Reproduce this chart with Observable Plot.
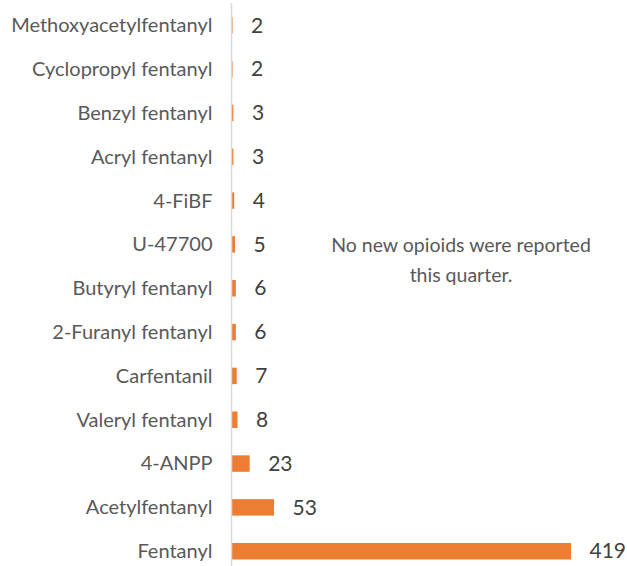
<!DOCTYPE html>
<html><head><meta charset="utf-8">
<script src="https://cdn.jsdelivr.net/npm/d3@7"></script>
<script src="https://cdn.jsdelivr.net/npm/@observablehq/plot@0.6"></script>
<style>body{margin:0;background:#fff;} svg{display:block;}</style>
</head><body><div id="chart"></div>
<script>
const substances = ["Methoxyacetylfentanyl","Cyclopropyl fentanyl","Benzyl fentanyl","Acryl fentanyl","4-FiBF","U-47700","Butyryl fentanyl","2-Furanyl fentanyl","Carfentanil","Valeryl fentanyl","4-ANPP","Acetylfentanyl","Fentanyl"];
const counts = [2,2,3,3,4,5,6,6,7,8,23,53,419];
const note = "No new opioids were reported\nthis quarter.";

const data = substances.map((name, i) => ({name, count: counts[i]}));
const font = "Lato, 'Open Sans', sans-serif";

const chart = Plot.plot({
  width: 627, height: 566,
  marginLeft: 231, marginRight: 56, marginTop: 3, marginBottom: 0,
  style: {fontFamily: font, background: "#fff"},
  x: {domain: [0, 419], axis: null},
  y: {domain: substances, range: [0, 576.5], round: false, paddingInner: 0.624, paddingOuter: 0.389, label: null, axis: null},
  marks: [
    Plot.barX(data, {x: "count", y: "name", fill: "#ED7D31", insetLeft: 1}),
    Plot.ruleX([0], {stroke: "#D9D9D9", strokeWidth: 1.5}),
    Plot.text(data, {x: "count", y: "name", text: d => String(d.count), dx: 18, textAnchor: "start", fill: "#404040", fontSize: 21}),
    Plot.text([note], {frameAnchor: "top-left", dx: 229.5, dy: 254, text: d => d, textAnchor: "middle", lineAnchor: "middle", fill: "#595959", fontSize: 19.5, lineHeight: 1.53}),
    Plot.axisY({tickSize: 0, tickPadding: 19, fontSize: 20, color: "#595959", label: null})
  ]
});
chart.querySelectorAll("[aria-label='y-axis tick label'] text").forEach(t => t.setAttribute("fill", "#595959"));
document.getElementById("chart").append(chart);
</script></body></html>
